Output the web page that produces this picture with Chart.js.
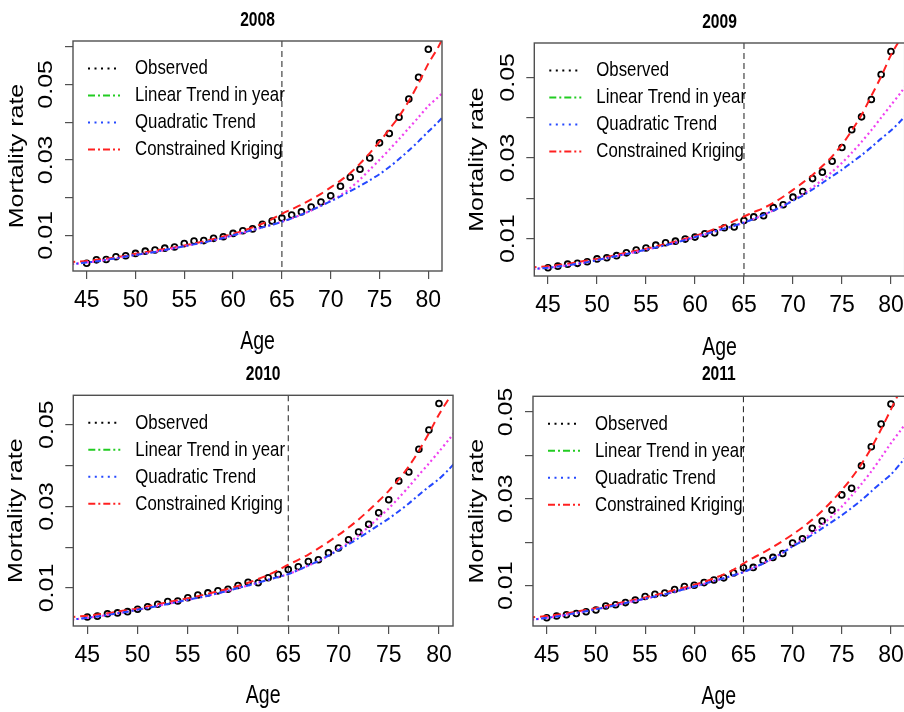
<!DOCTYPE html>
<html><head><meta charset="utf-8">
<script src="https://cdn.jsdelivr.net/npm/chart.js@4.4.0/dist/chart.umd.min.js"></script>
<style>
html,body{margin:0;padding:0;background:#fff;overflow:hidden;width:904px;height:712px;position:relative}
canvas{position:absolute}
</style></head><body>
<canvas id="c0" width="452" height="362" style="left:0px;top:0px"></canvas>
<canvas id="c1" width="460" height="362" style="left:452px;top:0px"></canvas>
<canvas id="c2" width="460" height="356" style="left:0px;top:356px"></canvas>
<canvas id="c3" width="460" height="356" style="left:452px;top:356px"></canvas>
<script>
// ---------------- DATA ----------------
const years = ['2008', '2009', '2010', '2011'];
const curveAges = [43,44,45,46,47,48,49,50,51,52,53,54,55,56,57,58,59,60,61,62,63,64,65,66,67,68,69,70,71,72,73,74,75,76,77,78,79,80,81,82];
const obsAges = [45,46,47,48,49,50,51,52,53,54,55,56,57,58,59,60,61,62,63,64,65,66,67,68,69,70,71,72,73,74,75,76,77,78,79,80];
const xTicks = [45,50,55,60,65,70,75,80];
const yTicks = [0.01,0.02,0.03,0.04,0.05,0.06];
const yTickLabels = ['0.01','0.03','0.05'];
const xRange = [43.6, 81.4];
const yRanges = [[0.00054,0.0615],[0.00076,0.0585],[0.00069,0.0572],[0.00071,0.0536]];
const cutoffAge = 65;
const legendLabels = ['Observed','Linear Trend in year','Quadratic Trend','Constrained Kriging'];

const obs2008 = [.0026,.0035,.0036,.0043,.0046,.0052,.0058,.0061,.0066,.0069,.0078,.0085,.0086,.0092,.0096,.0105,.0112,.0117,.0129,.0138,.0146,.0154,.0162,.0175,.0188,.0205,.0230,.0254,.0275,.0305,.0345,.0370,.0413,.0461,.0519,.0593];
const obs2009 = [.0028,.0032,.0037,.0039,.0043,.0050,.0053,.0058,.0065,.0072,.0077,.0084,.0090,.0094,.0099,.0104,.0112,.0115,.0127,.0129,.0145,.0154,.0157,.0177,.0184,.0203,.0217,.0249,.0265,.0292,.0326,.0370,.0402,.0445,.0507,.0564];
const obs2010 = [.0029,.0031,.0037,.0039,.0042,.0048,.0054,.0060,.0067,.0068,.0076,.0083,.0088,.0093,.0097,.0106,.0114,.0113,.0125,.0133,.0145,.0152,.0165,.0169,.0186,.0198,.0218,.0237,.0256,.0284,.0316,.0362,.0384,.0440,.0487,.0552];
const obs2011 = [.0026,.0030,.0033,.0036,.0040,.0044,.0053,.0056,.0061,.0067,.0075,.0080,.0083,.0091,.0098,.0101,.0107,.0113,.0118,.0129,.0141,.0142,.0158,.0165,.0174,.0198,.0208,.0232,.0249,.0274,.0309,.0324,.0376,.0420,.0472,.0518];

const linear2008 = [.0023,.0025,.0028,.0031,.0035,.0039,.0044,.0048,.0052,.0056,.0061,.0066,.0071,.0076,.0081,.0087,.0093,.0100,.0107,.0114,.0121,.0128,.0136,.0145,.0155,.0166,.0178,.0190,.0203,.0217,.0231,.0246,.0262,.0281,.0302,.0325,.0349,.0375,.0400,.0428];
const quad2008   = [.0023,.0025,.0028,.0031,.0035,.0039,.0044,.0048,.0052,.0056,.0061,.0066,.0071,.0076,.0081,.0087,.0093,.0100,.0107,.0114,.0121,.0128,.0136,.0145,.0155,.0166,.0179,.0192,.0206,.0225,.0248,.0274,.0300,.0327,.0355,.0384,.0413,.0443,.0466,.0492];
const krig2008   = [.0028,.0030,.0032,.0035,.0038,.0042,.0046,.0051,.0055,.0059,.0064,.0068,.0073,.0078,.0084,.0090,.0097,.0104,.0112,.0121,.0131,.0143,.0157,.0169,.0181,.0195,.0210,.0227,.0245,.0265,.0290,.0318,.0348,.0381,.0415,.0456,.0503,.0555,.0598,.0650];

const linear2009 = [.0024,.0026,.0028,.0031,.0034,.0038,.0042,.0047,.0052,.0057,.0062,.0067,.0073,.0078,.0084,.0090,.0097,.0104,.0111,.0118,.0125,.0132,.0140,.0149,.0159,.0170,.0181,.0194,.0207,.0222,.0238,.0255,.0271,.0289,.0307,.0327,.0348,.0368,.0392,.0420];
const quad2009   = [.0024,.0026,.0028,.0031,.0034,.0038,.0042,.0047,.0052,.0057,.0062,.0067,.0073,.0078,.0084,.0090,.0097,.0104,.0111,.0118,.0125,.0132,.0140,.0149,.0159,.0170,.0181,.0196,.0210,.0227,.0246,.0266,.0288,.0313,.0340,.0369,.0400,.0431,.0462,.0495];
const krig2009   = [.0028,.0030,.0032,.0035,.0038,.0042,.0046,.0050,.0055,.0060,.0065,.0070,.0075,.0081,.0087,.0093,.0100,.0107,.0115,.0124,.0133,.0144,.0155,.0166,.0176,.0189,.0204,.0221,.0239,.0258,.0280,.0304,.0333,.0368,.0407,.0454,.0502,.0555,.0598,.0650];

const linear2010 = [.0022,.0024,.0027,.0030,.0034,.0038,.0042,.0047,.0051,.0056,.0061,.0066,.0071,.0076,.0081,.0087,.0093,.0100,.0106,.0113,.0120,.0127,.0134,.0144,.0155,.0166,.0179,.0193,.0207,.0222,.0238,.0254,.0270,.0288,.0307,.0328,.0348,.0367,.0391,.0418];
const quad2010   = [.0022,.0024,.0027,.0030,.0034,.0038,.0042,.0047,.0051,.0056,.0061,.0066,.0071,.0076,.0081,.0087,.0093,.0100,.0106,.0113,.0120,.0127,.0134,.0144,.0155,.0166,.0179,.0196,.0211,.0229,.0250,.0272,.0295,.0321,.0348,.0377,.0405,.0434,.0464,.0495];
const krig2010   = [.0028,.0030,.0032,.0035,.0038,.0042,.0046,.0050,.0055,.0060,.0065,.0070,.0075,.0080,.0086,.0092,.0098,.0105,.0113,.0122,.0132,.0144,.0157,.0169,.0182,.0197,.0213,.0230,.0248,.0268,.0290,.0313,.0338,.0366,.0398,.0436,.0479,.0525,.0565,.0610];

const linear2011 = [.0021,.0023,.0026,.0029,.0033,.0037,.0041,.0046,.0050,.0055,.0060,.0065,.0070,.0075,.0080,.0086,.0092,.0098,.0104,.0111,.0117,.0124,.0131,.0141,.0151,.0163,.0176,.0190,.0203,.0217,.0232,.0247,.0262,.0279,.0297,.0317,.0337,.0356,.0382,.0410];
const quad2011   = [.0021,.0023,.0026,.0029,.0033,.0037,.0041,.0046,.0050,.0055,.0060,.0065,.0070,.0075,.0080,.0086,.0092,.0098,.0104,.0111,.0117,.0124,.0131,.0141,.0151,.0163,.0176,.0192,.0206,.0222,.0240,.0260,.0282,.0307,.0334,.0363,.0395,.0428,.0458,.0490];
const krig2011   = [.0026,.0028,.0030,.0033,.0036,.0040,.0044,.0048,.0053,.0058,.0063,.0068,.0073,.0078,.0084,.0090,.0096,.0102,.0109,.0117,.0126,.0137,.0151,.0164,.0176,.0189,.0203,.0218,.0234,.0252,.0272,.0295,.0320,.0348,.0380,.0417,.0460,.0506,.0552,.0600];

const observed = [obs2008, obs2009, obs2010, obs2011];
const linear = [linear2008, linear2009, linear2010, linear2011];
const quad = [quad2008, quad2009, quad2010, quad2011];
const krig = [krig2008, krig2009, krig2010, krig2011];

// ---------------- LAYOUT / STYLE ----------------
const layouts = [
  {id:'c0', padTop:41,   padRight:10,  yW:73,   xH:91, titleY:20,   ageY:342, yTitleX:17.5},
  {id:'c1', padTop:43,   padRight:7,   yW:82.3, xH:86, titleY:22,   ageY:348, yTitleX:25.7},
  {id:'c2', padTop:39.3, padRight:6.6, yW:73.3, xH:86, titleY:18.3, ageY:340, yTitleX:16.7},
  {id:'c3', padTop:40.3, padRight:7,   yW:81,   xH:86, titleY:18.3, ageY:340.7, yTitleX:25.7}
];
const SX = 0.78;
const FONT = "'Liberation Sans', Arial, sans-serif";
const RED = '#ff2020', BLUE = '#2448ff', MAGENTA = '#f040f0', GREEN = '#22cc22';
const legendStyles = [
  {color:'#000', dash:[2,4.5]},
  {color:GREEN, dash:[7,3,2,3]},
  {color:BLUE, dash:[2,4.5]},
  {color:RED, dash:[7,3,2,3]}
];

function ctext(ctx, text, x, y, font, align, rot, sx) {
  const s = sx || SX;
  ctx.save();
  ctx.translate(x, y);
  if (rot) { ctx.rotate(-Math.PI/2); ctx.scale(1, s); } else { ctx.scale(s, 1); }
  ctx.font = font; ctx.fillStyle = '#000';
  ctx.textAlign = align || 'center'; ctx.textBaseline = 'middle';
  ctx.fillText(text, 0, 0);
  ctx.restore();
}

const decorPlugin = {
  id: 'decor',
  beforeDatasetsDraw(chart) {
    const {ctx, chartArea: a, scales: {x}} = chart;
    const px = x.getPixelForValue(cutoffAge);
    ctx.save();
    ctx.strokeStyle = '#333'; ctx.lineWidth = 1.1; ctx.setLineDash([6,4]);
    ctx.beginPath(); ctx.moveTo(px, a.top); ctx.lineTo(px, a.bottom); ctx.stroke();
    ctx.restore();
  },
  afterDraw(chart) {
    const {ctx, chartArea: a, scales: {y}} = chart;
    const L = chart.options.plugins.decor;
    ctx.save();
    ctx.strokeStyle = '#505050'; ctx.lineWidth = 1.4; ctx.setLineDash([]);
    ctx.strokeRect(a.left, a.top, a.right - a.left, a.bottom - a.top);
    ctx.restore();
    yTickLabels.forEach(t => {
      ctext(ctx, t, a.left - 26, y.getPixelForValue(parseFloat(t)), '25px ' + FONT, 'center', true);
    });
    const cx = (a.left + a.right) / 2, cy = (a.top + a.bottom) / 2;
    ctext(ctx, L.year, cx, L.titleY, 'bold 20px ' + FONT, 'center', false);
    ctext(ctx, 'Age', cx, L.ageY, '25px ' + FONT, 'center', false);
    ctext(ctx, 'Mortality rate', L.yTitleX, cy, '25px ' + FONT, 'center', true);
    legendLabels.forEach((lab, i) => {
      const ry = a.top + 27.5 + i * 27;
      const st = legendStyles[i];
      ctx.save();
      ctx.strokeStyle = st.color; ctx.lineWidth = 2; ctx.setLineDash(st.dash);
      ctx.beginPath(); ctx.moveTo(a.left + 15, ry); ctx.lineTo(a.left + 47, ry); ctx.stroke();
      ctx.restore();
      ctext(ctx, lab, a.left + 62, ry, '21px ' + FONT, 'left', false, 0.8);
    });
  }
};

function pts(xs, ys) { return xs.map((v, i) => ({x: v, y: ys[i]})); }

layouts.forEach((L, k) => {
  const [ymin, ymax] = yRanges[k];
  new Chart(document.getElementById(L.id), {
    type: 'line',
    data: {
      datasets: [
        {label: 'Linear Trend in year', data: pts(curveAges, linear[k]), borderColor: BLUE, borderWidth: 2, borderDash: [6,3,2,3], pointRadius: 0, fill: false, tension: 0.3, clip: 0},
        {label: 'Quadratic Trend', data: pts(curveAges, quad[k]), borderColor: MAGENTA, borderWidth: 2.2, borderDash: [2,3], pointRadius: 0, fill: false, tension: 0.3, clip: 0},
        {label: 'Constrained Kriging', data: pts(curveAges, krig[k]), borderColor: RED, borderWidth: 2, borderDash: [8,5], pointRadius: 0, fill: false, tension: 0.3, clip: 0},
        {label: 'Observed', data: pts(obsAges, observed[k]), showLine: false, pointStyle: 'circle', pointRadius: 2.9, pointBorderWidth: 1.8, pointBorderColor: '#000', pointBackgroundColor: 'rgba(0,0,0,0)', borderColor: '#000'}
      ]
    },
    options: {
      responsive: false, animation: false, devicePixelRatio: 1,
      layout: {padding: {left: 0, top: L.padTop, right: L.padRight, bottom: 0}},
      plugins: {legend: {display: false}, tooltip: {enabled: false}, title: {display: false},
        decor: {year: years[k], titleY: L.titleY, ageY: L.ageY, yTitleX: L.yTitleX}},
      scales: {
        x: {
          type: 'linear', min: xRange[0], max: xRange[1],
          afterBuildTicks: s => { s.ticks = xTicks.map(v => ({value: v})); },
          afterFit: s => { s.height = L.xH; },
          grid: {drawOnChartArea: false, drawTicks: true, tickLength: 8, color: '#505050', lineWidth: 1.2},
          border: {display: false},
          ticks: {autoSkip: false, maxRotation: 0, padding: 8, color: '#000',
            font: {family: "'Liberation Sans Narrow', 'Arial Narrow', 'Liberation Sans', sans-serif", size: 23}}
        },
        y: {
          type: 'linear', min: ymin, max: ymax,
          afterBuildTicks: s => { s.ticks = yTicks.filter(v => v >= ymin && v <= ymax).map(v => ({value: v})); },
          afterFit: s => { s.width = L.yW; },
          grid: {drawOnChartArea: false, drawTicks: true, tickLength: 8, color: '#505050', lineWidth: 1.2},
          border: {display: false},
          ticks: {display: false}
        }
      }
    },
    plugins: [decorPlugin]
  });
});
</script>
</body></html>
